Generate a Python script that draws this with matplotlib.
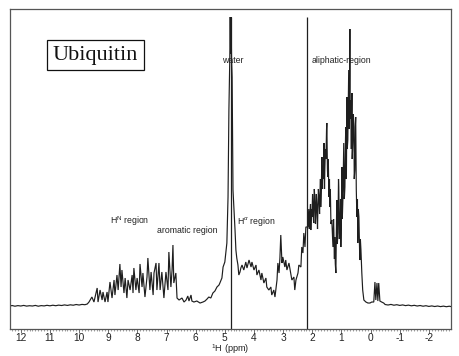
import matplotlib
matplotlib.use("Agg")
import matplotlib.pyplot as plt
from matplotlib.ticker import MultipleLocator

plt.rcParams['font.family'] = ['Liberation Sans', 'DejaVu Sans']
plt.rcParams['mathtext.fontset'] = 'custom'
plt.rcParams['mathtext.rm'] = 'Liberation Sans'
plt.rcParams['mathtext.it'] = 'Liberation Sans:italic'

# --- spectrum data: (chemical shift ppm, intensity a.u.) read per region ---
baseline_left = [
    (12.37, 23), (12.3, 23.5), (12.2, 22.8), (12.1, 23.4), (12.0, 23), (11.9, 23.6),
    (11.8, 22.9), (11.7, 23.3), (11.6, 23), (11.5, 23.6), (11.4, 22.8), (11.3, 23.4),
    (11.2, 23.1), (11.1, 23.7), (11.0, 23.2), (10.9, 23.8), (10.8, 23.3), (10.7, 23.9),
    (10.6, 23.5), (10.5, 24.1), (10.4, 23.6), (10.3, 24.2), (10.2, 23.8), (10.1, 24.5),
    (10.0, 24.0), (9.9, 24.6), (9.8, 24.3), (9.72, 25),
]
hn_aromatic = [
    (9.66, 27), (9.56, 32), (9.49, 27), (9.38, 41), (9.35, 27), (9.28, 39), (9.21, 29),
    (9.18, 37), (9.11, 27), (9.04, 37), (9.01, 27), (8.94, 47), (8.87, 31), (8.80, 49),
    (8.77, 34), (8.70, 54), (8.66, 39), (8.60, 65), (8.56, 42), (8.53, 59), (8.46, 36),
    (8.42, 51), (8.36, 31), (8.32, 49), (8.25, 39), (8.18, 54), (8.15, 36), (8.12, 61),
    (8.05, 39), (8.01, 51), (7.94, 36), (7.91, 65), (7.84, 42), (7.81, 56), (7.74, 32),
    (7.67, 52), (7.64, 71), (7.57, 39), (7.53, 57), (7.46, 34), (7.43, 56), (7.36, 66),
    (7.33, 39), (7.26, 66), (7.22, 39), (7.16, 57), (7.09, 31), (7.02, 57), (6.95, 39),
    (6.92, 77), (6.85, 42), (6.81, 59), (6.78, 84), (6.75, 46), (6.68, 56), (6.64, 31),
    (6.57, 29), (6.47, 31), (6.40, 27),
]
water_region = [
    (6.33, 29), (6.27, 33), (6.23, 28), (6.16, 34), (6.13, 28), (6.06, 27), (5.96, 28),
    (5.85, 26), (5.75, 27), (5.68, 28), (5.61, 30), (5.55, 32), (5.48, 31), (5.41, 36),
    (5.34, 38), (5.27, 42), (5.20, 44), (5.17, 46), (5.10, 51), (5.06, 62), (5.00, 67),
    (4.93, 86), (4.89, 132), (4.86, 219), (4.83, 270), (4.815, 312), (4.80, 275),
    (4.785, 312), (4.77, 270), (4.75, 252), (4.72, 139), (4.65, 99), (4.62, 79),
    (4.59, 71), (4.55, 64), (4.52, 54), (4.48, 57),
]
halpha_region = [
    (4.45, 61), (4.41, 64), (4.35, 59), (4.28, 67), (4.24, 61), (4.17, 69), (4.10, 62),
    (4.07, 67), (4.00, 59), (3.93, 64), (3.90, 54), (3.83, 59), (3.76, 49), (3.73, 56),
    (3.66, 46), (3.59, 51), (3.56, 42), (3.49, 39), (3.42, 42), (3.39, 34), (3.32, 39),
    (3.28, 32), (3.21, 49), (3.18, 66), (3.14, 56), (3.11, 71), (3.08, 94), (3.04, 66),
    (3.01, 72), (2.94, 62), (2.91, 69), (2.87, 59), (2.80, 66), (2.73, 54), (2.70, 49),
    (2.63, 52), (2.60, 39), (2.56, 49), (2.49, 56), (2.46, 64), (2.39, 62), (2.36, 82),
    (2.32, 76), (2.29, 96), (2.25, 82), (2.22, 102),
]
aliphatic_region = [
    (2.15, 102), (2.12, 120), (2.10, 100), (2.08, 116), (2.06, 125), (2.05, 99),
    (2.03, 120), (2.01, 112), (1.99, 135), (1.98, 129), (1.96, 110), (1.95, 106),
    (1.93, 140), (1.91, 129), (1.89, 105), (1.88, 112), (1.86, 135), (1.84, 122),
    (1.82, 100), (1.81, 116), (1.79, 140), (1.77, 132), (1.75, 115), (1.74, 126),
    (1.72, 150), (1.71, 122), (1.69, 140), (1.67, 172), (1.65, 140), (1.64, 162),
    (1.62, 150), (1.60, 186), (1.58, 140), (1.57, 159), (1.55, 180), (1.53, 170),
    (1.51, 200), (1.50, 206), (1.48, 160), (1.47, 152), (1.45, 170), (1.43, 132),
    (1.41, 150), (1.40, 122), (1.38, 140), (1.36, 105), (1.33, 109), (1.31, 95),
    (1.29, 82), (1.27, 110), (1.26, 99), (1.24, 70), (1.23, 92), (1.21, 65),
    (1.19, 56), (1.17, 110), (1.16, 129), (1.14, 85), (1.12, 96), (1.10, 150),
    (1.09, 142), (1.07, 90), (1.05, 99), (1.03, 130), (1.02, 82), (1.00, 120),
    (0.98, 162), (0.97, 110), (0.95, 129), (0.93, 170), (0.92, 186), (0.90, 130),
    (0.88, 142), (0.86, 190), (0.85, 202), (0.83, 150), (0.81, 232), (0.80, 180),
    (0.78, 189), (0.76, 240), (0.75, 259), (0.73, 200), (0.71, 300), (0.70, 210),
    (0.68, 229), (0.66, 180), (0.64, 236), (0.63, 170), (0.61, 186), (0.59, 215),
    (0.57, 202), (0.56, 150), (0.54, 159), (0.52, 205), (0.51, 212), (0.49, 140),
    (0.47, 112), (0.45, 130), (0.44, 86), (0.42, 120), (0.40, 112), (0.38, 80),
    (0.37, 69), (0.35, 90), (0.33, 79), (0.30, 56), (0.27, 39), (0.23, 29),
]
upfield_region = [
    (0.16, 27), (0.09, 26), (0.02, 26), (-0.04, 27), (-0.11, 27), (-0.15, 47),
    (-0.18, 29), (-0.22, 46), (-0.25, 28), (-0.28, 46), (-0.32, 28), (-0.38, 27),
    (-0.45, 26), (-0.5, 24.5), (-0.6, 24), (-0.7, 24.6), (-0.8, 23.8), (-0.9, 24.3),
    (-1.0, 23.6), (-1.1, 24.1), (-1.2, 23.4), (-1.3, 23.9), (-1.4, 23.2), (-1.5, 23.7),
    (-1.6, 23), (-1.7, 23.5), (-1.8, 22.8), (-1.9, 23.3), (-2.0, 22.6), (-2.1, 23.1),
    (-2.2, 22.5), (-2.3, 23), (-2.4, 22.4), (-2.5, 22.9), (-2.6, 22.3), (-2.7, 22.8),
    (-2.75, 22.5),
]

# full-height vertical artefact lines (water and aliphatic marker)
spike_ppm = [4.79, 2.19]
spike_top = [312, 312]

tick_values = [12, 11, 10, 9, 8, 7, 6, 5, 4, 3, 2, 1, 0, -1, -2]

spectrum = baseline_left + hn_aromatic + water_region + halpha_region + aliphatic_region + upfield_region
ppm = [p for p, _ in spectrum]
intensity = [v for _, v in spectrum]

fig = plt.figure(figsize=(4.59, 3.56), dpi=100)
ax = fig.add_axes([0.0218, 0.0758, 0.9608, 0.8989])

ax.plot(ppm, intensity, color='#1e1e1e', lw=0.85, solid_joinstyle='miter')
ax.vlines(spike_ppm, 0, spike_top, color='#1e1e1e', lw=0.9)

ax.set_xlim(12.37, -2.76)
ax.set_ylim(0, 320)

ax.set_xticks(tick_values)
ax.set_xticklabels([str(t) if t >= 0 else '-' + str(-t) for t in tick_values])
ax.xaxis.set_minor_locator(MultipleLocator(0.1))
ax.set_yticks([])
ax.tick_params(axis='x', which='major', direction='out', length=3.0, width=0.6,
               color='#555555', labelsize=7.3, labelcolor='#222222', pad=0.0)
ax.tick_params(axis='x', which='minor', direction='out', length=1.6, width=0.5,
               color='#777777')
for s in ax.spines.values():
    s.set_color('#555555')
    s.set_linewidth(0.9)

ax.set_xlabel('$^{1}$H (ppm)', fontsize=6.6, color='#222222')
ax.xaxis.set_label_coords(0.5, -0.043)

lab = dict(fontsize=6.3, color='#222222', va='center')
ax.text(4.73, 269, 'water', ha='center', **lab)
ax.text(2.01, 269, 'aliphatic-region', ha='left', **lab)
ax.text(8.94, 108, 'H$^{\\rm N}$ region', ha='left', **lab)
ax.text(7.33, 99, 'aromatic region', ha='left', **lab)
ax.text(4.59, 108, 'H$^{\\alpha}$ region', ha='left', **lab)

ax.text(0.194, 0.855, 'Ubiquitin', transform=ax.transAxes, ha='center', va='center',
        fontsize=16, family='Liberation Serif', color='#111111',
        bbox=dict(boxstyle='square,pad=0.25', fc='white', ec='#111111', lw=0.9))

fig.savefig('out.png', dpi=100)
